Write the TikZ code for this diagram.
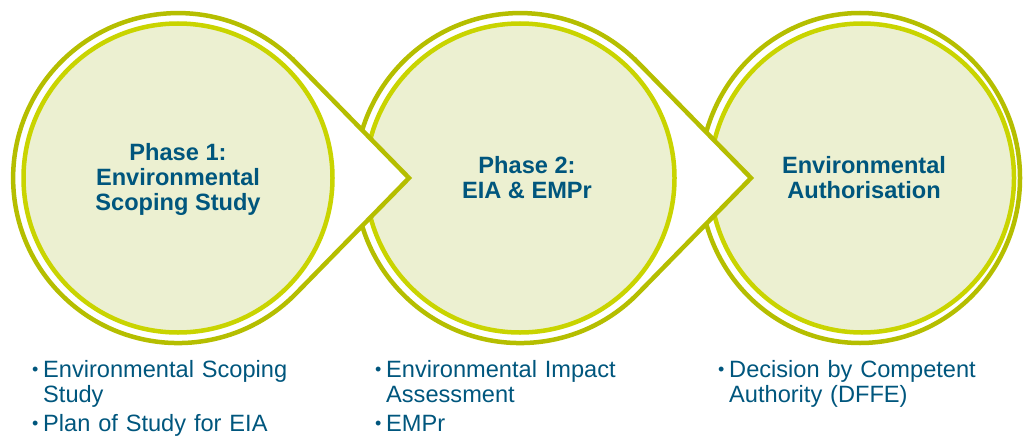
\documentclass[tikz,border=0pt]{standalone}
\usepackage{fontspec}
\setmainfont{Liberation Sans}
\definecolor{ringdark}{RGB}{181,190,0}
\definecolor{ringlight}{RGB}{201,212,0}
\definecolor{discfill}{RGB}{236,240,209}
\definecolor{phaseblue}{RGB}{0,86,125}
\newcommand{\bitem}[1]{\par\noindent
  \makebox[11pt][l]{\raisebox{1.5pt}{\fontsize{18}{18}\selectfont\textbullet}}%
  \parbox[t]{280pt}{\strut#1\strut}\par}
\begin{document}
\begin{tikzpicture}[x=1pt, y=-1pt,
   outer/.style={draw=ringdark, line width=4.5pt, fill=white},
   inner/.style={draw=ringlight, line width=4.5pt, fill=discfill},
   phase/.style={text=phaseblue, font=\bfseries\fontsize{23.6}{25}\selectfont, align=center, inner sep=0pt},
   items/.style={text=phaseblue, font=\fontsize{23.6}{25}\selectfont, text width=300pt, anchor=north west, inner sep=0pt}]
   \useasboundingbox (0,0) rectangle (1024,436);
   \draw[outer] (860,178) ellipse [x radius=160, y radius=165];
   \draw[inner] (862,178) ellipse [x radius=152, y radius=154.5];
   \draw[outer] (638,62.5) -- (751,178) -- (638,293.5) arc[start angle=44.4, end angle=315.6, radius=165] -- cycle;
   \draw[inner] (520,178) circle (154.5);
   \draw[outer] (296,62.5) -- (409,178) -- (296,293.5) arc[start angle=44.4, end angle=315.6, radius=165] -- cycle;
   \draw[inner] (178,178) circle (154.5);
   \node[phase] (phase1) at (178,179) {Phase 1:\\Environmental\\Scoping Study};
   \node[phase] (phase2) at (527,178) {Phase 2:\\EIA \& EMPr};
   \node[phase] (phase3) at (864,178) {Environmental\\Authorisation};
   \node[items] (list1) at (32,349) {\setlength\parskip{3pt}\bitem{Environmental Scoping\\Study}\bitem{Plan of Study for EIA}};
   \node[items] (list2) at (375,349) {\setlength\parskip{3pt}\bitem{Environmental Impact\\Assessment}\bitem{EMPr}};
   \node[items] (list3) at (718,349) {\setlength\parskip{3pt}\bitem{Decision by Competent\\Authority (DFFE)}};
  \end{tikzpicture}
\end{document}
